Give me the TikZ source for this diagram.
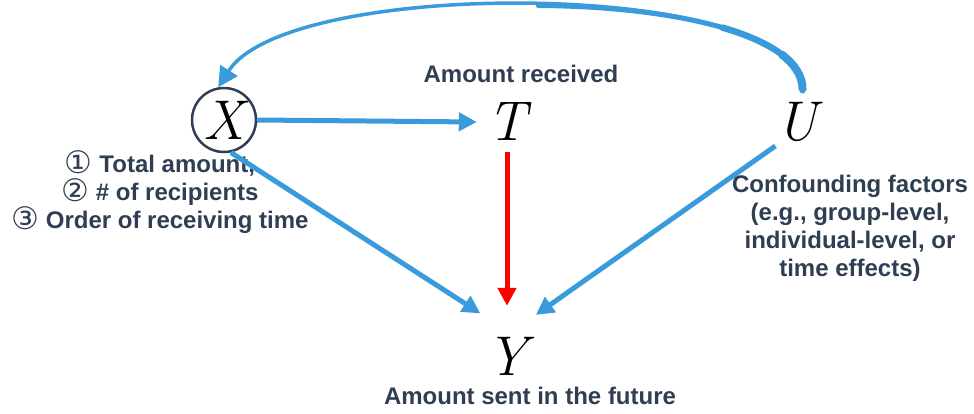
\documentclass[tikz,border=0pt]{standalone}
\usepackage{fontspec}
\setmainfont{Liberation Sans}
\newfontfamily\symfont{DejaVu Sans}
\newfontfamily\varfont{Latin Modern Roman}
\usetikzlibrary{arrows.meta}
\definecolor{txt}{HTML}{2F3E52}
\definecolor{arrblue}{HTML}{3A9BDC}
\definecolor{arrred}{HTML}{FF0000}
\newcommand{\cnum}[1]{{\symfont\mdseries\fontsize{31}{28}\selectfont\raisebox{-1.5pt}{#1}}}
\tikzset{
  varnode/.style={circle,inner sep=0pt,font=\varfont\itshape\fontsize{56}{56}\selectfont},
  lbl/.style={text=txt,font=\fontsize{24}{28}\selectfont\bfseries,align=center,inner sep=0pt},
  arr/.style={draw=arrblue,line width=5pt,-{Triangle[length=18pt,width=18pt]}},
  redarr/.style={draw=arrred,line width=5pt,-{Triangle[length=18pt,width=18pt]}},
  taper/.style={draw=arrblue,line cap=round}
}
\begin{document}
\begin{tikzpicture}[x=1pt,y=-1pt]
\useasboundingbox (0,0) rectangle (974,413);
\node[varnode,draw=txt,line width=2.5pt,minimum size=64pt] (X) at (224,120) {X};
\node[varnode,minimum size=60pt] (T) at (507,122) {T};
\node[varnode,minimum size=64pt] (U) at (797,122) {U};
\node[varnode,minimum size=100pt] (Y) at (507,356) {Y};
\node[lbl] (lT) at (521,74) {Amount received};
\node[lbl] (lY) at (530,396) {Amount sent in the future};
\node[lbl] (lX) at (160,192) {\cnum{①} Total amount,\\\cnum{②} \# of recipients\\\cnum{③} Order of receiving time};
\node[lbl] (lU) at (850,228) {Confounding factors\\(e.g., group-level,\\individual-level, or\\time effects)};
\draw[arr] (X.east) -- (T.west);
\draw[arr] (X.-78) -- (Y.122);
\draw[arr] (U.228) -- (Y.55);
\draw[redarr] (T.south) -- (Y.north);
% tapered curved connector U -> X
\draw[arr,line width=3.5pt,-{Triangle[length=20pt,width=20pt]}] (U.80) .. controls (805,-20) and (290,-25) .. (X.100);
\draw[taper,line width=5pt] (U.80) .. controls (803.8,35.25) and (675.65,6.375) .. (538.25,5.5);
\draw[taper,line width=6.5pt] (U.80) .. controls (803.2,62.875) and (771.45,41.84) .. (722.4,27.6);
\draw[taper,line width=8pt,line cap=butt] (U.80) .. controls (802.9,76.69) and (795.1,64.52) .. (781.1,54.03);
\end{tikzpicture}
\end{document}
